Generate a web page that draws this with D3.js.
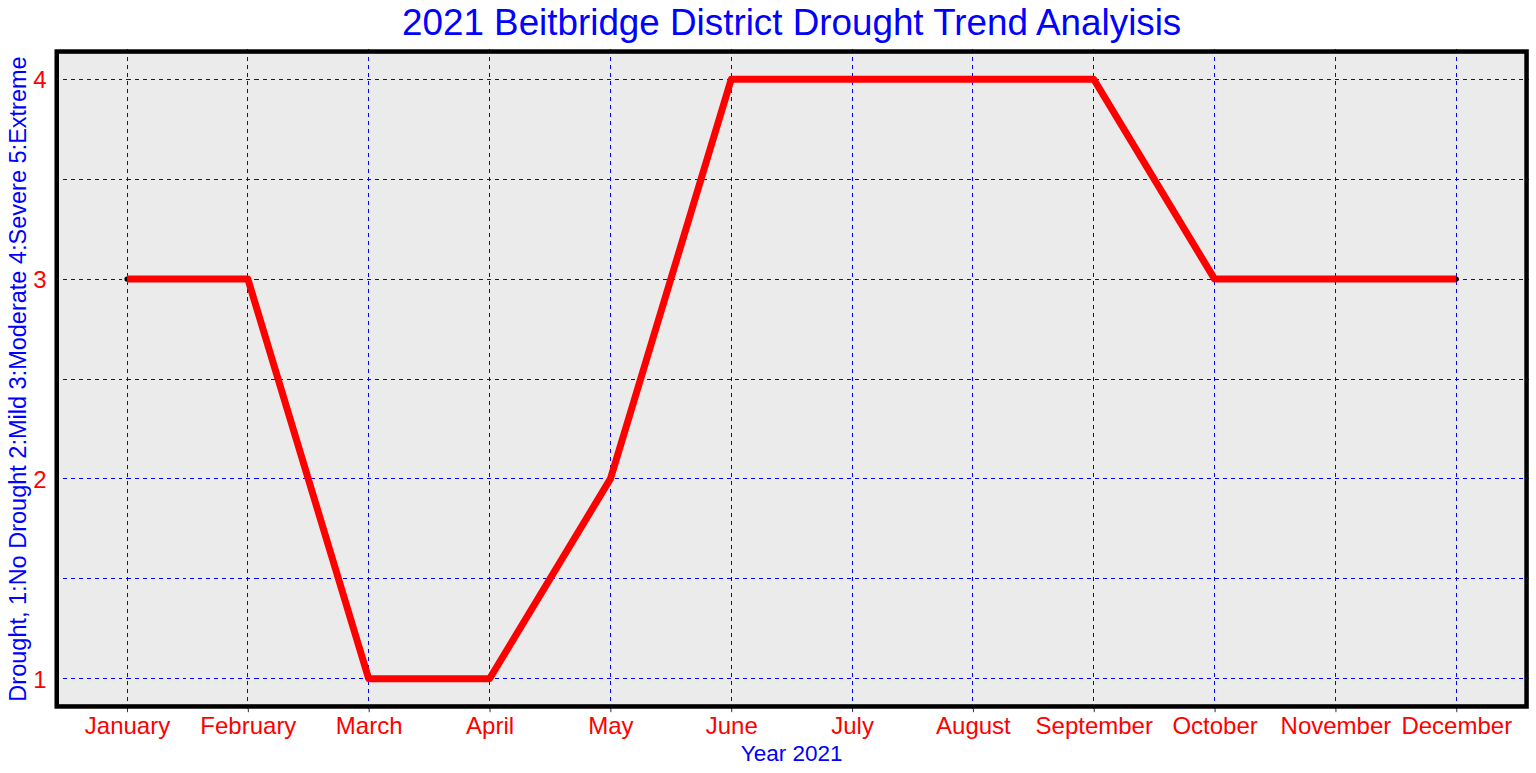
<!DOCTYPE html>
<html>
<head>
<meta charset="utf-8">
<script src="https://cdn.jsdelivr.net/npm/d3@7"></script>
<style>
  body { margin: 0; background: #ffffff; }
  svg { display: block; font-family: "Liberation Sans", Arial, sans-serif; }
</style>
</head>
<body>
<svg id="chart"></svg>
<script>
const months = ['January', 'February', 'March', 'April', 'May', 'June',
  'July', 'August', 'September', 'October', 'November', 'December'];
const droughtLevel = [3, 3, 1, 1, 2, 4, 4, 4, 4, 3, 3, 3];
const yMajorTicks = [1, 2, 3, 4];
const yMinorTicks = [1.5, 2.5, 3.5];

const width = 1536, height = 773;
const margin = { top: 49.3, right: 7.2, bottom: 64.3, left: 54.5 };
const innerW = width - margin.left - margin.right,
      innerH = height - margin.top - margin.bottom;

const data = months.map((m, i) => ({ month: m, idx: i + 1, value: droughtLevel[i] }));

const svg = d3.select('#chart')
  .attr('width', width)
  .attr('height', height);

const chart = svg.append('g')
  .attr('transform', `translate(${margin.left}, ${margin.top})`);

// discrete x with ggplot-like 0.6 expansion
const x = d3.scaleLinear()
  .domain([0.4, months.length + 0.6])
  .range([0, innerW]);

// continuous y with 5% expansion
const yExt = d3.extent(droughtLevel);
const pad = (yExt[1] - yExt[0]) * 0.05;
const y = d3.scaleLinear()
  .domain([yExt[0] - pad, yExt[1] + pad])
  .range([innerH, 0]);

// panel background
chart.append('rect')
  .attr('width', innerW)
  .attr('height', innerH)
  .attr('fill', '#ebebeb');

// GRID
const grid = chart.append('g')
  .attr('class', 'grid')
  .attr('stroke', '#0000ff')
  .attr('stroke-width', 1)
  .attr('stroke-dasharray', '4,4')
  .attr('shape-rendering', 'crispEdges');

grid.selectAll('line.h')
  .data(yMinorTicks.concat(yMajorTicks))
  .enter().append('line')
    .attr('class', 'h')
    .attr('x1', 0)
    .attr('x2', innerW)
    .attr('y1', (d) => y(d))
    .attr('y2', (d) => y(d));

grid.selectAll('line.v')
  .data(data)
  .enter().append('line')
    .attr('class', 'v')
    .attr('y1', 0)
    .attr('y2', innerH)
    .attr('x1', (d) => x(d.idx))
    .attr('x2', (d) => x(d.idx));

// X axis
const xAxis = d3.axisBottom(x)
  .tickValues(data.map((d) => d.idx))
  .tickFormat((d) => months[d - 1])
  .tickSizeInner(3.5)
  .tickSizeOuter(0)
  .tickPadding(4);

const xAxisGroup = chart.append('g')
  .attr('class', 'axis axis-x')
  .attr('transform', `translate(0, ${innerH})`)
  .call(xAxis);

xAxisGroup.select('.domain').remove();
xAxisGroup.selectAll('line').attr('stroke', '#333333');
xAxisGroup.selectAll('text')
  .attr('fill', '#ff0000')
  .attr('font-size', 24)
  .attr('font-family', '"Liberation Sans", Arial, sans-serif')
  .attr('dy', 0)
  .attr('y', 25.5);

// Y axis
const yAxisGroup = chart.append('g')
  .attr('class', 'axis axis-y')
  .call(d3.axisLeft(y).tickValues(yMajorTicks).tickFormat(d3.format('d')).tickSize(0).tickPadding(8));

yAxisGroup.select('.domain').remove();
yAxisGroup.selectAll('text')
  .attr('fill', '#ff0000')
  .attr('font-size', 24)
  .attr('font-family', '"Liberation Sans", Arial, sans-serif')
  .attr('dy', '0.36em');

// points under the line
chart.append('g')
    .attr('class', 'dots')
  .selectAll('circle')
    .data(data)
  .enter().append('circle')
    .attr('r', 2.6)
    .attr('cx', (d) => x(d.idx))
    .attr('cy', (d) => y(d.value))
    .attr('fill', '#000000');

// line
const line = d3.line()
  .x((d) => x(d.idx))
  .y((d) => y(d.value));

chart.append('path')
  .datum(data)
  .attr('fill', 'none')
  .attr('stroke', '#ff0000')
  .attr('stroke-width', 7)
  .attr('stroke-linejoin', 'round')
  .attr('stroke-linecap', 'butt')
  .attr('d', line);

// panel border
chart.append('rect')
  .attr('x', 2.25)
  .attr('y', 2.25)
  .attr('width', innerW - 4.5)
  .attr('height', innerH - 4.5)
  .attr('fill', 'none')
  .attr('stroke', '#000000')
  .attr('stroke-width', 4.5);

// Titles
svg.append('text')
  .attr('x', margin.left + innerW / 2)
  .attr('y', 35)
  .attr('text-anchor', 'middle')
  .attr('fill', '#0000ff')
  .attr('font-size', 36.8)
  .text('2021 Beitbridge District Drought Trend Analyisis');

svg.append('text')
  .attr('x', margin.left + innerW / 2)
  .attr('y', 761)
  .attr('text-anchor', 'middle')
  .attr('fill', '#0000ff')
  .attr('font-size', 22.5)
  .text('Year 2021');

svg.append('text')
  .attr('transform', `translate(26, ${margin.top + innerH / 2}) rotate(-90)`)
  .attr('text-anchor', 'middle')
  .attr('fill', '#0000ff')
  .attr('font-size', 23.5)
  .text('Drought, 1:No Drought 2:Mild 3:Moderate 4:Severe 5:Extreme');
</script>
</body>
</html>
